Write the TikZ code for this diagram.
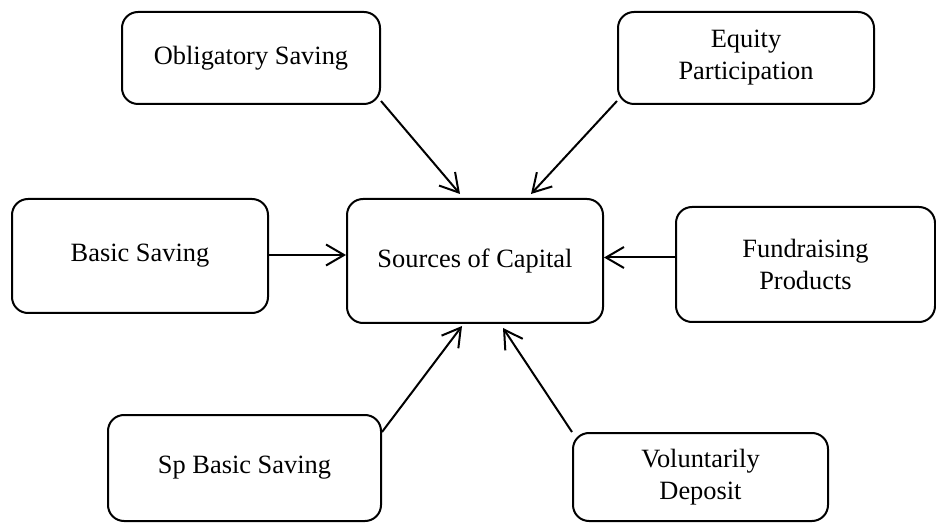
\documentclass[tikz,border=0pt]{standalone}
\usepackage{fontspec}
\setmainfont{Liberation Serif}
\usetikzlibrary{arrows.meta}
\begin{document}
\begin{tikzpicture}[x=0.5pt, y=-0.5pt,
    srcbox/.style={draw, line width=1pt, rounded corners=8pt, align=center,
      font=\fontsize{13.2}{16}\selectfont, inner sep=0pt},
    feed/.style={line width=1pt, -{Straight Barb[length=9pt,width=10.5pt]}}]
      \useasboundingbox (0,0) rectangle (936,523);
      \node[srcbox, minimum width=256*0.5pt, minimum height=124*0.5pt] (capital) at (475,261){Sources of Capital};
      \node[srcbox, minimum width=258*0.5pt, minimum height=92*0.5pt] (oblig) at (251,58){Obligatory Saving};
      \node[srcbox, minimum width=256*0.5pt, minimum height=92*0.5pt] (equity) at (746,58){Equity\\Participation};
      \node[srcbox, minimum width=256*0.5pt, minimum height=114*0.5pt] (basic) at (140,256){Basic Saving};
      \node[srcbox, minimum width=259*0.5pt, minimum height=115*0.5pt] (fund) at (805.5,264.5){Fundraising\\Products};
      \node[srcbox, minimum width=273*0.5pt, minimum height=106*0.5pt] (spbasic) at (244.5,468){Sp Basic Saving};
      \node[srcbox, minimum width=255*0.5pt, minimum height=88*0.5pt] (volunt) at (700.5,477){Voluntarily\\Deposit};
      \draw[feed]([yshift=2pt]oblig.south east) -- ([xshift=-7.5pt, yshift=2pt]capital.north);
      \draw[feed]([yshift=2pt]equity.south west) -- ([xshift=28pt, yshift=2pt]capital.north);
      \draw[feed]([yshift=0.5pt]basic.east) -- ([yshift=0.5pt]basic.east -| capital.west);
      \draw[feed]([yshift=3.5pt]fund.west) -- ([yshift=3.5pt]fund.west -| capital.east);
      \draw[feed]([yshift=-9pt]spbasic.north east) -- ([xshift=-6.5pt, yshift=-1pt]capital.south);
      \draw[feed](volunt.north west) -- ([xshift=14pt, yshift=-2pt]capital.south);
    \end{tikzpicture}
\end{document}
